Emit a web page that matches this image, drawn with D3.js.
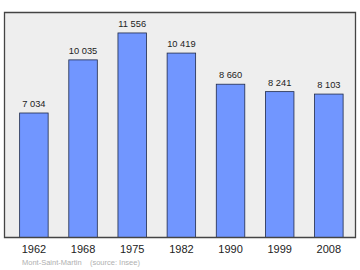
<!DOCTYPE html>
<html>
<head>
<meta charset="utf-8">
<script src="https://cdn.jsdelivr.net/npm/d3@7"></script>
<style>
  html, body { margin: 0; padding: 0; background: #fff; }
  svg { display: block; font-family: "Liberation Sans", Arial, sans-serif; }
</style>
</head>
<body>
<div id="chart"></div>
<script>
// Population by census year
const years = ["1962", "1968", "1975", "1982", "1990", "1999", "2008"];
const population = [7034, 10035, 11556, 10419, 8660, 8241, 8103];
const townName = "Mont-Saint-Martin";
const sourceNote = "(source: Insee)";

const width = 360, height = 270;
const frame = { left: 4.5, top: 12.5, right: 355.5, bottom: 237.5 };

const svg = d3.select("#chart")
    .append("svg")
    .attr("width", width)
    .attr("height", height);

const x = d3.scaleBand()
    .domain(years)
    .range([frame.left, frame.right])
    .paddingInner(0.42)
    .paddingOuter(0.28)
    .align(0.55);

const y = d3.scaleLinear()
    .domain([0, d3.max(population) * 1.1])
    .range([frame.bottom, frame.top]);

// background panel
svg.append("rect")
    .attr("class", "panel")
    .attr("x", frame.left)
    .attr("y", frame.top)
    .attr("width", frame.right - frame.left)
    .attr("height", frame.bottom - frame.top)
    .attr("fill", "#eeeeee")
    .attr("stroke", "none");

const bars = svg.selectAll(".bar")
    .data(years.map((yr, i) => ({ year: yr, value: population[i] })))
    .enter()
    .append("g")
    .attr("class", "bar");

bars.append("rect")
    .attr("x", d => x(d.year))
    .attr("y", d => y(d.value))
    .attr("width", x.bandwidth())
    .attr("height", d => y(0) - y(d.value))
    .attr("fill", "#7196ff")
    .attr("stroke", "#1f2a4a")
    .attr("stroke-width", 0.8);

// value labels, french thousand separator
const fmt = d3.formatLocale({ decimal: ",", thousands: " ", grouping: [3], currency: ["", ""] }).format(",d");

bars.append("text")
    .attr("x", d => x(d.year) + x.bandwidth() / 2)
    .attr("y", d => y(d.value) - 6)
    .attr("text-anchor", "middle")
    .attr("font-size", 9.3)
    .attr("fill", "#222")
    .text(d => fmt(d.value));

// frame drawn on top
svg.append("path")
    .attr("d", `M${frame.left},${frame.top}H${frame.right}V${frame.bottom}H${frame.left}Z`)
    .attr("fill", "none")
    .attr("stroke", "#444")
    .attr("stroke-width", 1.3);

// year axis
const axis = d3.axisBottom(x).tickSize(0).tickPadding(8);
svg.append("g")
    .attr("transform", `translate(0,${frame.bottom})`)
    .call(axis)
    .call(g => g.select(".domain").remove())
    .call(g => g.selectAll("text")
        .attr("font-size", 11)
        .attr("font-family", "Liberation Sans, Arial, sans-serif")
        .attr("fill", "#222"));

// footnote
svg.append("text")
    .attr("x", 22)
    .attr("y", 265)
    .attr("font-size", 7.5)
    .attr("fill", "#b0b0b0")
    .attr("xml:space", "preserve")
    .text(townName + "    " + sourceNote);
</script>
</body>
</html>
